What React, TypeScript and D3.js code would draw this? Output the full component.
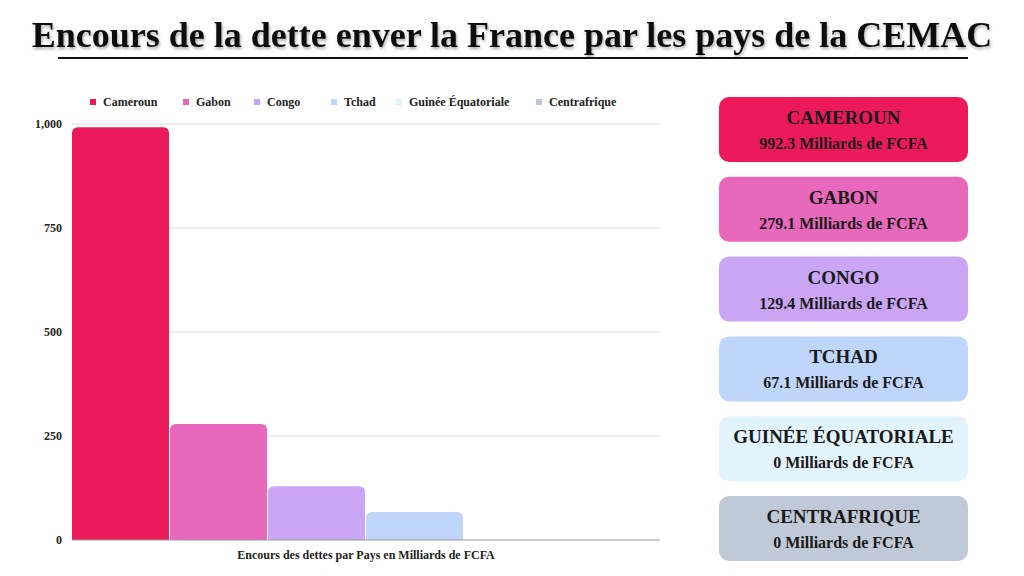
import { useEffect, useRef } from "react";
import * as d3 from "d3";

const countries = ["Cameroun", "Gabon", "Congo", "Tchad", "Guinée Équatoriale", "Centrafrique"];
const debts = [992.3, 279.1, 129.4, 67.1, 0, 0];
const colors = ["#ec1a5a", "#e868bc", "#c9a5f4", "#bfd6fa", "#e2f3fb", "#bfcad6"];
const yTicks = [0, 250, 500, 750, 1000];

const W = 1024;
const H = 576;
const FONT = "'Liberation Serif', 'DejaVu Serif', serif";

export default function App() {
  const svgRef = useRef<SVGSVGElement>(null);

  useEffect(() => {
    if (!svgRef.current) return;
    const svg = d3.select(svgRef.current);
    svg.selectAll("*").remove();

    const defs = svg.append("defs");
    defs
      .append("filter")
      .attr("id", "shadow")
      .append("feDropShadow")
      .attr("dx", 1)
      .attr("dy", 2)
      .attr("stdDeviation", 1.5)
      .attr("flood-color", "#000")
      .attr("flood-opacity", 0.35);

    // Title
    svg
      .append("text")
      .attr("x", 512)
      .attr("y", 47)
      .attr("text-anchor", "middle")
      .attr("font-family", FONT)
      .attr("font-weight", "bold")
      .attr("font-size", 36)
      .attr("fill", "#111")
      .attr("filter", "url(#shadow)")
      .text("Encours de la dette enver la France par les pays de la CEMAC");

    svg
      .append("line")
      .attr("x1", 58)
      .attr("x2", 968)
      .attr("y1", 58)
      .attr("y2", 58)
      .attr("stroke", "#111")
      .attr("stroke-width", 2);

    // Chart scales
    const x = d3.scaleBand<string>().domain(countries).range([72, 660]).padding(0);
    const y = d3.scaleLinear().domain([0, 1000]).range([540, 124]);

    // Grid
    svg
      .append("g")
      .selectAll("line")
      .data(yTicks.filter((t) => t > 0))
      .join("line")
      .attr("x1", 72)
      .attr("x2", 660)
      .attr("y1", (d) => y(d))
      .attr("y2", (d) => y(d))
      .attr("stroke", "#dcdcdc")
      .attr("stroke-width", 1);

    // Y axis labels
    svg
      .append("g")
      .selectAll("text")
      .data(yTicks)
      .join("text")
      .attr("x", 62)
      .attr("y", (d) => y(d) + 4)
      .attr("text-anchor", "end")
      .attr("font-family", FONT)
      .attr("font-weight", "bold")
      .attr("font-size", 12)
      .attr("fill", "#222")
      .text((d) => d3.format(",")(d));

    // Bars with rounded top corners
    const r = 6;
    svg
      .append("g")
      .selectAll("path")
      .data(countries.map((c, i) => ({ c, v: debts[i], color: colors[i] })).filter((d) => d.v > 0))
      .join("path")
      .attr("fill", (d) => d.color)
      .attr("d", (d) => {
        const x0 = x(d.c)!;
        const x1 = x0 + x.bandwidth() - 1;
        const y0 = y(d.v);
        const yb = y(0);
        const rr = Math.min(r, (yb - y0) / 2);
        return `M${x0},${yb}V${y0 + rr}Q${x0},${y0} ${x0 + rr},${y0}H${x1 - rr}Q${x1},${y0} ${x1},${y0 + rr}V${yb}Z`;
      });

    // Baseline
    svg
      .append("line")
      .attr("x1", 72)
      .attr("x2", 660)
      .attr("y1", y(0))
      .attr("y2", y(0))
      .attr("stroke", "#999")
      .attr("stroke-width", 1);

    // X axis title
    svg
      .append("text")
      .attr("x", 366)
      .attr("y", 559)
      .attr("text-anchor", "middle")
      .attr("font-family", FONT)
      .attr("font-weight", "bold")
      .attr("font-size", 12)
      .attr("fill", "#222")
      .text("Encours des dettes par Pays en Milliards de FCFA");

    // Legend
    const legendX = [90, 183, 254, 331, 396, 536];
    const legend = svg
      .append("g")
      .selectAll("g")
      .data(countries)
      .join("g")
      .attr("transform", (_, i) => `translate(${legendX[i]},102)`);
    legend
      .append("rect")
      .attr("x", 0)
      .attr("y", -3)
      .attr("width", 6)
      .attr("height", 6)
      .attr("fill", (_, i) => colors[i]);
    legend
      .append("text")
      .attr("x", 13)
      .attr("y", 4)
      .attr("font-family", FONT)
      .attr("font-weight", "bold")
      .attr("font-size", 12)
      .attr("fill", "#222")
      .text((d) => d);

    // Cards
    const cardY = d3.scaleLinear().domain([0, 5]).range([97, 496]);
    const cards = svg
      .append("g")
      .selectAll("g")
      .data(countries)
      .join("g")
      .attr("transform", (_, i) => `translate(719,${cardY(i)})`);
    cards
      .append("rect")
      .attr("width", 249)
      .attr("height", 65)
      .attr("rx", 10)
      .attr("fill", (_, i) => colors[i]);
    cards
      .append("text")
      .attr("x", 124.5)
      .attr("y", 27)
      .attr("text-anchor", "middle")
      .attr("font-family", FONT)
      .attr("font-weight", "bold")
      .attr("font-size", 19)
      .attr("fill", "#1a1a1a")
      .text((d) => d.toUpperCase());
    cards
      .append("text")
      .attr("x", 124.5)
      .attr("y", 52)
      .attr("text-anchor", "middle")
      .attr("font-family", FONT)
      .attr("font-weight", "bold")
      .attr("font-size", 16)
      .attr("fill", "#1a1a1a")
      .text((_, i) => `${d3.format("")(debts[i])} Milliards de FCFA`);
  }, []);

  return (
    <svg
      ref={svgRef}
      width={W}
      height={H}
      style={{ position: "absolute", left: 0, top: 0, background: "#fff" }}
    />
  );
}
